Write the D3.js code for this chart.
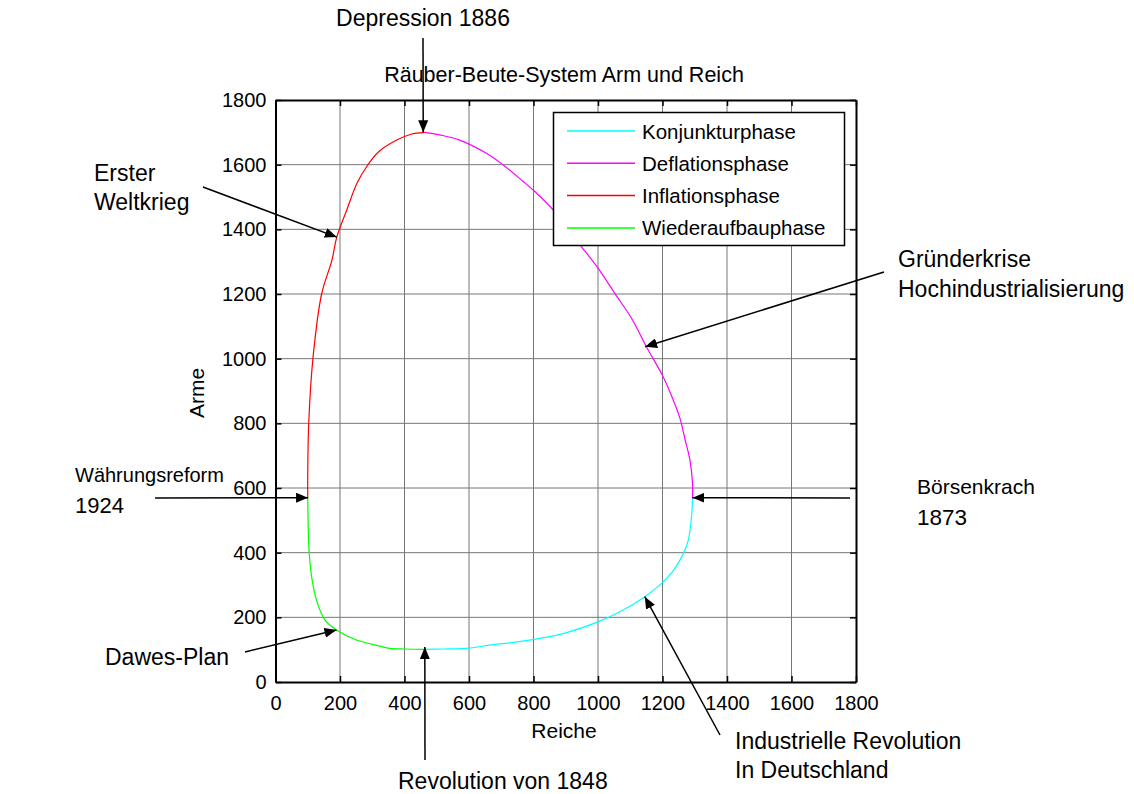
<!DOCTYPE html>
<html>
<head>
<meta charset="utf-8">
<script src="https://cdn.jsdelivr.net/npm/d3@7"></script>
<style>
  body { margin: 0; background: #fff; }
  svg text { font-family: "Liberation Sans", Arial, sans-serif; fill: #000; }
</style>
</head>
<body>
<svg id="chart" width="1134" height="794"></svg>
<script>
// phases of the orbit, [Reiche, Arme]
var konjunktur = [[463,101],[520,102],[592,104],[664,114],[750,124],[820,135],[900,152],[1000,186],
  [1068,217],[1145,264],[1197,305],[1230,340],[1254,377],[1270,410],[1280,439],[1290,511],[1293,568]];
var deflation = [[1293,568],[1293,615],[1285,687],[1270,750],[1254,816],[1230,880],[1202,944],[1150,1037],
  [1104,1125],[1052,1202],[1000,1280],[949,1346],[900,1410],[861,1460],[804,1517],[768,1548],[706,1599],
  [654,1635],[571,1676],[509,1692],[463,1700]];
var inflation = [[463,1700],[420,1694],[376,1676],[320,1640],[286,1599],[253,1543],[221,1460],[190,1376],
  [175,1305],[143,1200],[116,1000],[103,800],[100,650],[100,570]];
var wiederaufbau = [[100,570],[104,408],[112,326],[127,254],[153,192],[189,161],[251,130],[323,111],
  [354,104],[400,102],[463,101]];

var phaseNames = ["Konjunkturphase", "Deflationsphase", "Inflationsphase", "Wiederaufbauphase"];
var phaseColors = ["#00ffff", "#ff00ff", "#ff0000", "#00ff00"];
var ticks = [0, 200, 400, 600, 800, 1000, 1200, 1400, 1600, 1800];

var svg = d3.select("#chart");
var x = d3.scaleLinear().domain([0, 1800]).range([275.5, 856]);
var y = d3.scaleLinear().domain([0, 1800]).range([682, 100]);

svg.append("defs").append("marker")
  .attr("id", "arrow")
  .attr("viewBox", "0 0 12 10")
  .attr("refX", 12).attr("refY", 5)
  .attr("markerWidth", 12).attr("markerHeight", 10)
  .attr("markerUnits", "userSpaceOnUse")
  .attr("orient", "auto")
  .append("path").attr("d", "M0,0 L12,5 L0,10 Z").attr("fill", "#000");

// grid
var grid = svg.append("g");
grid.selectAll(".gx").data(ticks.slice(1, -1)).enter().append("line")
  .attr("x1", d => x(d)).attr("x2", d => x(d)).attr("y1", y(0)).attr("y2", y(1800))
  .attr("stroke", "#777").attr("stroke-width", 1);
grid.selectAll(".gy").data(ticks.slice(1, -1)).enter().append("line")
  .attr("y1", d => y(d)).attr("y2", d => y(d)).attr("x1", x(0)).attr("x2", x(1800))
  .attr("stroke", "#777").attr("stroke-width", 1);

// axes (ticks inside, like matlab)
var fmt = d3.format("d");
var xAxis = svg.append("g").attr("transform", "translate(0," + y(0) + ")")
  .call(d3.axisBottom(x).tickValues(ticks).tickFormat(fmt).tickSizeInner(-6).tickSizeOuter(0).tickPadding(14));
var yAxis = svg.append("g").attr("transform", "translate(" + x(0) + ",0)")
  .call(d3.axisLeft(y).tickValues(ticks).tickFormat(fmt).tickSizeInner(-6).tickSizeOuter(0).tickPadding(9));
svg.append("g").attr("transform", "translate(0," + y(1800) + ")")
  .call(d3.axisTop(x).tickValues(ticks).tickSizeInner(-6).tickSizeOuter(0).tickFormat(""));
svg.append("g").attr("transform", "translate(" + x(1800) + ",0)")
  .call(d3.axisRight(y).tickValues(ticks).tickSizeInner(-6).tickSizeOuter(0).tickFormat(""));
svg.selectAll(".domain").attr("stroke", "#000").attr("stroke-width", 2);
svg.selectAll(".tick line").attr("stroke", "#000").attr("stroke-width", 1.5);
svg.selectAll(".tick text").attr("font-size", "20px").attr("fill", "#000")
  .style("font-family", "Liberation Sans, Arial, sans-serif");
xAxis.selectAll(".tick text").attr("dy", "0.71em");

// curve
var line = d3.line().x(d => x(d[0])).y(d => y(d[1])).curve(d3.curveCatmullRom);
[konjunktur, deflation, inflation, wiederaufbau].forEach(function(seg, i) {
  svg.append("path").attr("d", line(seg)).attr("fill", "none")
    .attr("stroke", phaseColors[i]).attr("stroke-width", 1.2);
});

// legend
var lg = svg.append("g");
lg.append("rect").attr("x", 553.5).attr("y", 112.5).attr("width", 291).attr("height", 133)
  .attr("fill", "#fff").attr("stroke", "#000").attr("stroke-width", 1.5);
phaseNames.forEach(function(name, i) {
  var yy = 131 + i * 32.3;
  lg.append("line").attr("x1", 567).attr("x2", 635).attr("y1", yy).attr("y2", yy)
    .attr("stroke", phaseColors[i]).attr("stroke-width", 1.5);
  lg.append("text").attr("x", 642).attr("y", yy + 7.5).attr("font-size", "20.5px").text(name);
});

// titles
svg.append("text").attr("x", 564).attr("y", 82).attr("text-anchor", "middle")
  .attr("font-size", "21.5px").text("Räuber-Beute-System Arm und Reich");
svg.append("text").attr("x", 564).attr("y", 738).attr("text-anchor", "middle")
  .attr("font-size", "21px").text("Reiche");
svg.append("text").attr("transform", "translate(204,393) rotate(-90)").attr("text-anchor", "middle")
  .attr("font-size", "21px").text("Arme");

// historical annotations: text lines, text position, arrow start (px) and tip (data)
var notes = [
  { lines: ["Depression 1886"], tx: 423, ty: 26, anchor: "middle", from: [423, 38], to: [458, 1700] },
  { lines: ["Erster", "Weltkrieg"], tx: 94, ty: 181, gap: 29, from: [203, 187], to: [190, 1376] },
  { lines: ["Gründerkrise", "Hochindustrialisierung"], tx: 898, ty: 267, gap: 30, from: [884, 272], to: [1146, 1037] },
  { lines: ["Währungsreform", "1924"], tx: 75, ty: 482, gap: 31, sizes: [20, 22], from: [155, 498], to: [101, 570] },
  { lines: ["Börsenkrach", "1873"], tx: 917, ty: 494, gap: 31, sizes: [21, 22.5], from: [850, 498], to: [1293, 570] },
  { lines: ["Dawes-Plan"], tx: 105, ty: 665, from: [245, 652], to: [189, 161] },
  { lines: ["Revolution von 1848"], tx: 398, ty: 789, from: [425, 760], to: [463, 108] },
  { lines: ["Industrielle Revolution", "In Deutschland"], tx: 735, ty: 749, gap: 29, from: [720, 735], to: [1145, 264] }
];
var ann = svg.append("g");
notes.forEach(function(n) {
  ann.append("line").attr("x1", n.from[0]).attr("y1", n.from[1])
    .attr("x2", x(n.to[0])).attr("y2", y(n.to[1]))
    .attr("stroke", "#000").attr("stroke-width", 1.5).attr("marker-end", "url(#arrow)");
  n.lines.forEach(function(s, k) {
    var fs = n.sizes ? n.sizes[k] : 23;
    ann.append("text").attr("font-size", fs + "px").attr("text-anchor", n.anchor || "start")
      .attr("x", n.tx).attr("y", n.ty + k * (n.gap || 29)).text(s);
  });
});
</script>
</body>
</html>
